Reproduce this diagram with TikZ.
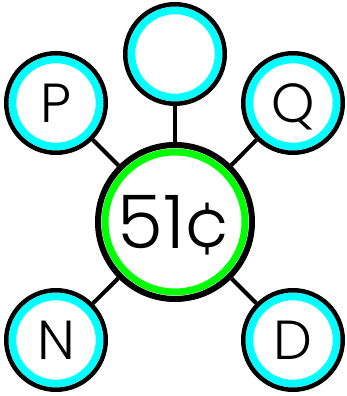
\documentclass[tikz,border=0pt]{standalone}
\usepackage{fontspec}
\setmainfont{Poppins Light}
\definecolor{ringgreen}{RGB}{0,255,0}
\definecolor{ringcyan}{RGB}{0,255,255}

\tikzset{
  coin/.style={circle,draw=black,fill=white,line width=4.5pt,minimum size=99.5pt,
    inner sep=0pt,text depth=0pt,font=\fontsize{55pt}{55pt}\selectfont,
    path picture={\draw[ringcyan,line width=7.5pt] (path picture bounding box.center) circle (43.5pt);}},
  total/.style={circle,draw=black,fill=white,line width=6pt,minimum size=154pt,
    inner sep=0pt,text depth=0pt,font=\fontsize{74pt}{74pt}\selectfont,
    path picture={\draw[ringgreen,line width=7pt] (path picture bounding box.center) circle (70pt);}},
  link/.style={line width=4pt}
}

\begin{document}
\begin{tikzpicture}[x=1pt,y=1pt]
    \useasboundingbox (0,0) rectangle (347,396);
    \node[total] (sum) at (175,174) {51¢};
    \node[coin] (top) at (175,342) {};
    \node[coin] (p) at (56,293) {P};
    \node[coin] (q) at (293,293) {Q};
    \node[coin] (n) at (56,56) {N};
    \node[coin] (d) at (293,56) {D};
    \foreach \c in {top,p,q,n,d} {
      \draw[link] (sum) -- (\c);
    }
\end{tikzpicture}
\end{document}
